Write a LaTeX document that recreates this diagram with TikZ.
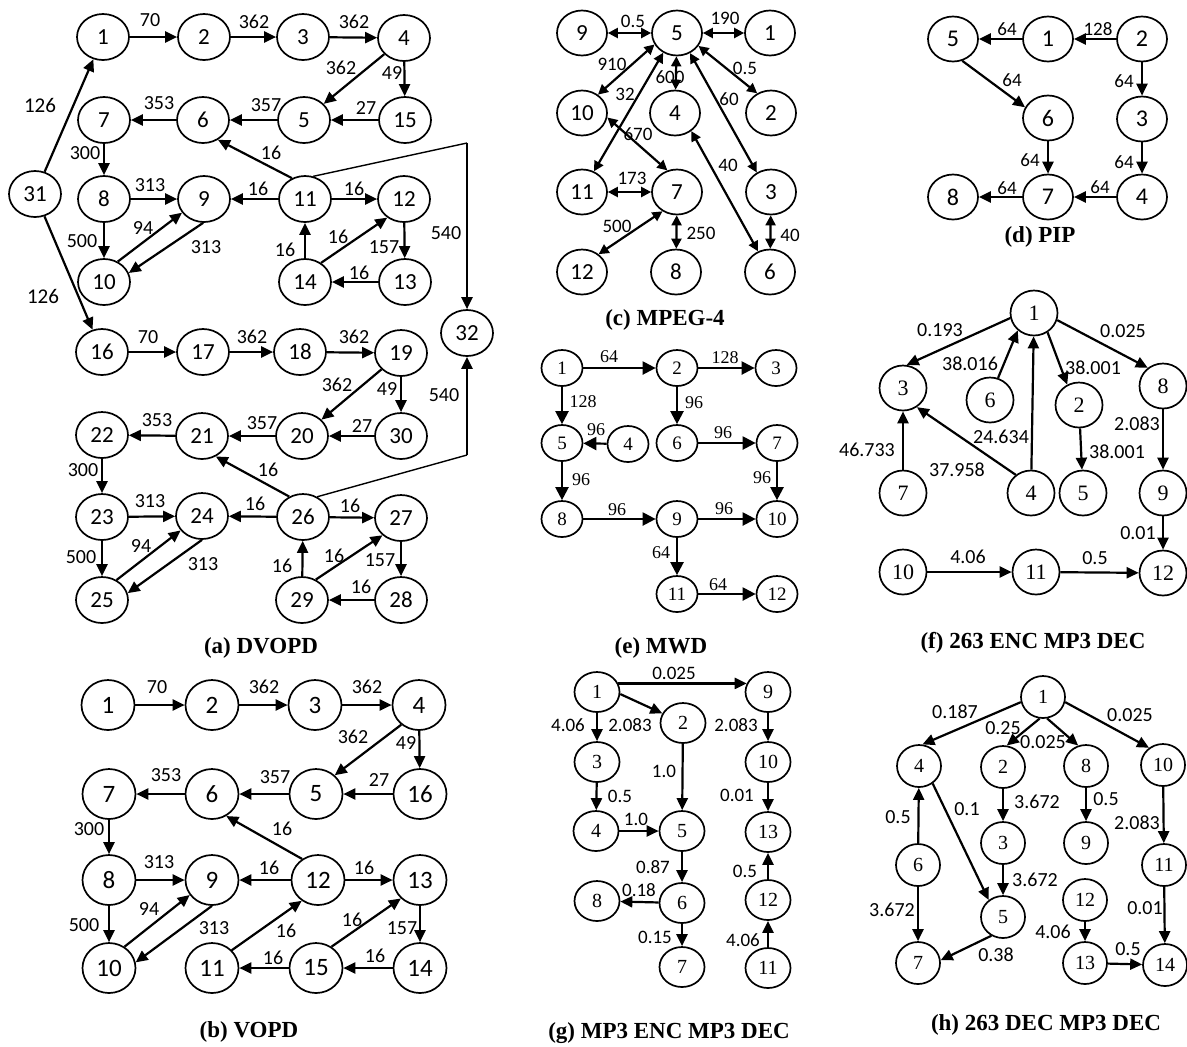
\documentclass[tikz,border=0pt]{standalone}
\usepackage{fontspec}
\setmainfont{Liberation Serif}
\newfontfamily\calib{Carlito}
\newfontfamily\tms{Liberation Serif}
\usetikzlibrary{shapes.geometric,arrows.meta}
\newcommand{\fC}[1]{\calib\fontsize{#1}{#1}\selectfont}
\newcommand{\fT}[1]{\tms\fontsize{#1}{#1}\selectfont}

\begin{document}
\begin{tikzpicture}[x=0.5pt,y=-0.5pt,
  base/.style={draw,ellipse,inner sep=0pt,line width=0.85pt},
  nA/.style={base,minimum width=26pt,minimum height=23pt,font=\fC{11.5}},
  nB/.style={base,minimum width=26.5pt,minimum height=25pt,font=\fC{12.5}},
  nC/.style={base,minimum width=25pt,minimum height=22.5pt,font=\fC{11.5}},
  nD/.style={base,minimum width=25pt,minimum height=22.5pt,font=\fC{12}},
  nE/.style={base,minimum width=20.5pt,minimum height=18pt,font=\fT{9.5}},
  nF/.style={base,minimum width=23.5pt,minimum height=22.5pt,font=\fT{11}},
  nG/.style={base,minimum width=22.5pt,minimum height=20pt,font=\fT{10}},
  nH/.style={base,minimum width=22pt,minimum height=21pt,font=\fT{10}},
  lA/.style={inner sep=0pt,font=\fC{10}},
  lC/.style={inner sep=0pt,font=\fC{9.5}},
  lE/.style={inner sep=0pt,font=\fT{9}},
  captxt/.style={inner sep=0pt,font=\fT{11.5}\bfseries},
  arr/.style={-{Triangle[length=6pt,width=5.5pt]},line width=1.1pt},
  arrE/.style={-{Triangle[length=6.5pt,width=6.5pt]},line width=1.1pt},
  bi/.style={{Triangle[length=5pt,width=5pt]}-{Triangle[length=5pt,width=5pt]},line width=1.1pt},
  thinln/.style={line width=0.7pt},
]
\useasboundingbox (0,0) rectangle (1187,1046);

% ---------------- (a) DVOPD ----------------
\node[nA] (a1) at (103,37) {1};
\node[nA] (a2) at (204,37) {2};
\node[nA] (a3) at (303,37) {3};
\node[nA] (a4) at (404,38) {4};
\node[nA] (a7) at (104,120) {7};
\node[nA] (a6) at (203,120) {6};
\node[nA] (a5) at (304,120) {5};
\node[nA] (a15) at (405,120) {15};
\node[nA] (a31) at (35,194) {31};
\node[nA] (a8) at (104,199) {8};
\node[nA] (a9) at (204,199) {9};
\node[nA] (a11) at (305,199) {11};
\node[nA] (a12) at (404,199) {12};
\node[nA] (a10) at (104,282) {10};
\node[nA] (a14) at (305,282) {14};
\node[nA] (a13) at (405,282) {13};
\node[nA] (a32) at (467,333) {32};
\node[nA] (a16) at (102,352) {16};
\node[nA] (a17) at (203,352) {17};
\node[nA] (a18) at (300,352) {18};
\node[nA] (a19) at (401,353) {19};
\node[nA] (a22) at (102,435) {22};
\node[nA] (a21) at (202,436) {21};
\node[nA] (a20) at (302,436) {20};
\node[nA] (a30) at (401,436) {30};
\node[nA] (a23) at (102,517) {23};
\node[nA] (a24) at (202,516) {24};
\node[nA] (a26) at (303,517) {26};
\node[nA] (a27) at (401,518) {27};
\node[nA] (a25) at (102,600) {25};
\node[nA] (a29) at (302,600) {29};
\node[nA] (a28) at (401,600) {28};
\coordinate (k1) at (467,143);
\coordinate (k2) at (467,455);

\draw[arr] (a31) -- (a1);
\draw[arr] (a31) -- (a16);
\draw[arr] (a1) -- (a2);
\draw[arr] (a2) -- (a3);
\draw[arr] (a3) -- (a4);
\draw[arr] (a4) -- (a5);
\draw[arr] (a4) -- (a15);
\draw[arr] (a15) -- (a5);
\draw[arr] (a5) -- (a6);
\draw[arr] (a6) -- (a7);
\draw[arr] (a7) -- (a8);
\draw[arr] (a11.122) -- (a6.307);
\draw[arr] (a8) -- (a9);
\draw[arr] (a11) -- (a9);
\draw[arr] (a11) -- (a12);
\draw[arr] (a8) -- (a10);
\draw[arr] (a10.56) -- (a9.212);
\draw[arr] (a9.268) -- (a10.20);
\draw[arr] (a14) -- (a11);
\draw[arr] (a14.50) -- (a12.228);
\draw[arr] (a12) -- (a13);
\draw[arr] (a13) -- (a14);
\draw[thinln] (a11.70) -- (k1);
\draw[arr] (k1) -- (a32);

\draw[arr] (a16) -- (a17);
\draw[arr] (a17) -- (a18);
\draw[arr] (a18) -- (a19);
\draw[arr] (a19) -- (a20);
\draw[arr] (a19) -- (a30);
\draw[arr] (a30) -- (a20);
\draw[arr] (a20) -- (a21);
\draw[arr] (a21) -- (a22);
\draw[arr] (a22) -- (a23);
\draw[arr] (a26.124) -- (a21.304);
\draw[arr] (a23) -- (a24);
\draw[arr] (a26) -- (a24);
\draw[arr] (a26) -- (a27);
\draw[arr] (a23) -- (a25);
\draw[arr] (a25.54) -- (a24.214);
\draw[arr] (a24.270) -- (a25.15);
\draw[arr] (a29) -- (a26);
\draw[arr] (a29.56) -- (a27.223);
\draw[arr] (a27) -- (a28);
\draw[arr] (a28) -- (a29);
\draw[thinln] (a26.55) -- (k2);
\draw[arr] (k2) -- (a32);

\node[lA] (aw1) at (150,20) {70};
\node[lA] (aw2) at (254,22) {362};
\node[lA] (aw3) at (354,22) {362};
\node[lA] (aw4) at (341,68) {362};
\node[lA] (aw5) at (392,73) {49};
\node[lA,font=\fC{10.5}] (aw6) at (40,105) {126};
\node[lA] (aw7) at (159,103) {353};
\node[lA] (aw8) at (266,105) {357};
\node[lA] (aw9) at (366,108) {27};
\node[lA] (aw10) at (85,153) {300};
\node[lA] (aw11) at (271,153) {16};
\node[lA] (aw12) at (150,185) {313};
\node[lA] (aw13) at (258,189) {16};
\node[lA] (aw14) at (354,189) {16};
\node[lA] (aw15) at (446,233) {540};
\node[lA] (aw16) at (143,228) {94};
\node[lA] (aw17) at (82,241) {500};
\node[lA] (aw18) at (206,247) {313};
\node[lA] (aw19) at (338,237) {16};
\node[lA] (aw20) at (285,250) {16};
\node[lA] (aw21) at (384,247) {157};
\node[lA] (aw22) at (359,273) {16};
\node[lA,font=\fC{10.5}] (aw23) at (43,296) {126};
\node[lA] (aw24) at (148,337) {70};
\node[lA] (aw25) at (252,337) {362};
\node[lA] (aw26) at (354,337) {362};
\node[lA] (aw27) at (337,385) {362};
\node[lA] (aw28) at (387,389) {49};
\node[lA] (aw29) at (444,395) {540};
\node[lA] (aw30) at (157,420) {353};
\node[lA] (aw31) at (262,423) {357};
\node[lA] (aw32) at (362,426) {27};
\node[lA] (aw33) at (83,470) {300};
\node[lA] (aw34) at (268,470) {16};
\node[lA] (aw35) at (150,501) {313};
\node[lA] (aw36) at (255,504) {16};
\node[lA] (aw37) at (350,506) {16};
\node[lA] (aw38) at (141,546) {94};
\node[lA] (aw39) at (81,557) {500};
\node[lA] (aw40) at (203,564) {313};
\node[lA] (aw41) at (282,566) {16};
\node[lA] (aw42) at (334,556) {16};
\node[lA] (aw43) at (380,560) {157};
\node[lA] (aw44) at (361,587) {16};
\node[captxt] (capa) at (261,648) {(a) DVOPD};

% ---------------- (b) VOPD ----------------
\node[nB] (b1) at (108,705) {1};
\node[nB] (b2) at (212,705) {2};
\node[nB] (b3) at (315,705) {3};
\node[nB] (b4) at (419,705) {4};
\node[nB] (b7) at (109,794) {7};
\node[nB] (b6) at (212,794) {6};
\node[nB] (b5) at (316,794) {5};
\node[nB] (b16) at (420,794) {16};
\node[nB] (b8) at (109,880) {8};
\node[nB] (b9) at (212,880) {9};
\node[nB] (b12) at (318,880) {12};
\node[nB] (b13) at (420,880) {13};
\node[nB] (b10) at (109,968) {10};
\node[nB] (b11) at (212,968) {11};
\node[nB] (b15) at (316,968) {15};
\node[nB] (b14) at (420,968) {14};

\draw[arr] (b1) -- (b2);
\draw[arr] (b2) -- (b3);
\draw[arr] (b3) -- (b4);
\draw[arr] (b4.228) -- (b5.45);
\draw[arr] (b4) -- (b16);
\draw[arr] (b16) -- (b5);
\draw[arr] (b5) -- (b6);
\draw[arr] (b6) -- (b7);
\draw[arr] (b7) -- (b8);
\draw[arr] (b12.127) -- (b6.303);
\draw[arr] (b8) -- (b9);
\draw[arr] (b12) -- (b9);
\draw[arr] (b12) -- (b13);
\draw[arr] (b8) -- (b10);
\draw[arr] (b10.54) -- (b9.214);
\draw[arr] (b9.270) -- (b10.12);
\draw[arr] (b11.42) -- (b12.232);
\draw[arr] (b15.54) -- (b13.224);
\draw[arr] (b13) -- (b14);
\draw[arr] (b14) -- (b15);
\draw[arr] (b15) -- (b11);

\node[lA] (bw1) at (157,687) {70};
\node[lA] (bw2) at (264,687) {362};
\node[lA] (bw3) at (367,687) {362};
\node[lA] (bw4) at (353,737) {362};
\node[lA] (bw5) at (406,743) {49};
\node[lA] (bw6) at (166,775) {353};
\node[lA] (bw7) at (275,777) {357};
\node[lA] (bw8) at (379,780) {27};
\node[lA] (bw9) at (89,829) {300};
\node[lA] (bw10) at (282,829) {16};
\node[lA] (bw11) at (159,862) {313};
\node[lA] (bw12) at (269,868) {16};
\node[lA] (bw13) at (364,868) {16};
\node[lA] (bw14) at (149,909) {94};
\node[lA] (bw15) at (84,925) {500};
\node[lA] (bw16) at (214,928) {313};
\node[lA] (bw17) at (286,931) {16};
\node[lA] (bw18) at (352,920) {16};
\node[lA] (bw19) at (402,928) {157};
\node[lA] (bw20) at (273,958) {16};
\node[lA] (bw21) at (375,956) {16};
\node[captxt] (capb) at (249,1032) {(b) VOPD};

% ---------------- (c) MPEG-4 ----------------
\node[nC] (c9) at (582,33) {9};
\node[nC] (c5) at (677,33) {5};
\node[nC] (c1) at (770,33) {1};
\node[nC] (c10) at (582,113) {10};
\node[nC] (c4) at (675,113) {4};
\node[nC] (c2) at (771,113) {2};
\node[nC] (c11) at (582,192) {11};
\node[nC] (c7) at (677,192) {7};
\node[nC] (c3) at (771,192) {3};
\node[nC] (c12) at (582,272) {12};
\node[nC] (c8) at (676,272) {8};
\node[nC] (c6) at (770,272) {6};

\draw[bi] (c9) -- (c5);
\draw[bi] (c5) -- (c1);
\draw[bi] (c5.207) -- (c10.49);
\draw[bi] (c5) -- (c4);
\draw[bi] (c5.329) -- (c2.125);
\draw[bi] (c5.235) -- (c11.60);
\draw[bi] (c5.303) -- (c3.126);
\draw[bi] (c10.350) -- (c7.114);
\draw[bi] (c4.312) -- (c6.120);
\draw[bi] (c11) -- (c7);
\draw[bi] (c7.233) -- (c12.47);
\draw[bi] (c7) -- (c8);
\draw[bi] (c3) -- (c6);

\node[lC] (cw1) at (633,21) {0.5};
\node[lC] (cw2) at (725,18) {190};
\node[lC] (cw3) at (612,64) {910};
\node[lC] (cw4) at (670,77) {600};
\node[lC] (cw5) at (745,68) {0.5};
\node[lC] (cw6) at (625,94) {32};
\node[lC] (cw7) at (729,99) {60};
\node[lC] (cw8) at (638,134) {670};
\node[lC] (cw9) at (728,165) {40};
\node[lC] (cw10) at (632,178) {173};
\node[lC] (cw11) at (617,226) {500};
\node[lC] (cw12) at (701,233) {250};
\node[lC] (cw13) at (790,235) {40};
\node[captxt] (capc) at (665,320) {(c) MPEG-4};

% ---------------- (d) PIP ----------------
\node[nD] (d5) at (953,39) {5};
\node[nD] (d1) at (1048,39) {1};
\node[nD] (d2) at (1142,39) {2};
\node[nD] (d6) at (1048,118) {6};
\node[nD] (d3) at (1142,119) {3};
\node[nD] (d8) at (953,197) {8};
\node[nD] (d7) at (1048,197) {7};
\node[nD] (d4) at (1142,197) {4};

\draw[arr] (d1) -- (d5);
\draw[arr] (d2) -- (d1);
\draw[arr] (d5.293) -- (d6.155);
\draw[arr] (d2) -- (d3);
\draw[arr] (d6) -- (d7);
\draw[arr] (d3) -- (d4);
\draw[arr] (d7) -- (d8);
\draw[arr] (d4) -- (d7);

\node[lC] (dw1) at (1007,29) {64};
\node[lC] (dw2) at (1098,29) {128};
\node[lC] (dw3) at (1012,80) {64};
\node[lC] (dw4) at (1124,81) {64};
\node[lC] (dw5) at (1030,160) {64};
\node[lC] (dw6) at (1124,162) {64};
\node[lC] (dw7) at (1007,188) {64};
\node[lC] (dw8) at (1100,187) {64};
\node[captxt] (capd) at (1040,237) {(d) PIP};

% ---------------- (e) MWD ----------------
\node[nE] (e1) at (562,368) {1};
\node[nE] (e2) at (677,368) {2};
\node[nE] (e3) at (776,368) {3};
\node[nE] (e5) at (562,443) {5};
\node[nE] (e4) at (628,444) {4};
\node[nE] (e6) at (677,443) {6};
\node[nE] (e7) at (777,443) {7};
\node[nE] (e8) at (562,519) {8};
\node[nE] (e9) at (677,519) {9};
\node[nE] (e10) at (777,519) {10};
\node[nE] (e11) at (677,594) {11};
\node[nE] (e12) at (777,594) {12};

\draw[arrE] (e1) -- (e2);
\draw[arrE] (e2) -- (e3);
\draw[arrE] (e1) -- (e5);
\draw[arrE] (e2) -- (e6);
\draw[arrE] (e4) -- (e5);
\draw[arrE] (e6) -- (e7);
\draw[arrE] (e5) -- (e8);
\draw[arrE] (e7) -- (e10);
\draw[arrE] (e8) -- (e9);
\draw[arrE] (e9) -- (e10);
\draw[arrE] (e9) -- (e11);
\draw[arrE] (e11) -- (e12);

\node[lE] (ew1) at (609,357) {64};
\node[lE] (ew2) at (725,358) {128};
\node[lE] (ew3) at (583,402) {128};
\node[lE] (ew4) at (694,403) {96};
\node[lE] (ew5) at (596,430) {96};
\node[lE] (ew6) at (723,433) {96};
\node[lE] (ew7) at (581,480) {96};
\node[lE] (ew8) at (762,478) {96};
\node[lE] (ew9) at (617,510) {96};
\node[lE] (ew10) at (724,509) {96};
\node[lE] (ew11) at (661,553) {64};
\node[lE] (ew12) at (718,585) {64};
\node[captxt] (cape) at (661,648) {(e) MWD};

% ---------------- (f) 263 ENC MP3 DEC ----------------
\node[nF] (f1) at (1034,313) {1};
\node[nF] (f3) at (903,388) {3};
\node[nF] (f6) at (990,400) {6};
\node[nF] (f2) at (1079,405) {2};
\node[nF] (f8) at (1163,386) {8};
\node[nF] (f7) at (903,493) {7};
\node[nF] (f4) at (1031,493) {4};
\node[nF] (f5) at (1083,493) {5};
\node[nF] (f9) at (1163,493) {9};
\node[nF] (f10) at (903,572) {10};
\node[nF] (f11) at (1036,572) {11};
\node[nF] (f12) at (1163,573) {12};

\draw[arr] (f1.192) -- (f3.81);
\draw[arr] (f6.70) -- (f1.227);
\draw[arr] (f4) -- (f1);
\draw[arr] (f1.305) -- (f2.120);
\draw[arr] (f1.343) -- (f8.130);
\draw[arr] (f4.130) -- (f3.306);
\draw[arr] (f7) -- (f3);
\draw[arr] (f2) -- (f5);
\draw[arr] (f8) -- (f9);
\draw[arr] (f9) -- (f12);
\draw[arr] (f10) -- (f11);
\draw[arr] (f11) -- (f12);

\node[lA] (fw1) at (940,330) {0.193};
\node[lA] (fw2) at (1123,331) {0.025};
\node[lA] (fw3) at (970,364) {38.016};
\node[lA] (fw4) at (1093,368) {38.001};
\node[lA] (fw5) at (1001,437) {24.634};
\node[lA] (fw6) at (1137,424) {2.083};
\node[lA] (fw7) at (867,450) {46.733};
\node[lA] (fw8) at (957,470) {37.958};
\node[lA] (fw9) at (1117,452) {38.001};
\node[lA] (fw10) at (1138,533) {0.01};
\node[lA] (fw11) at (968,557) {4.06};
\node[lA] (fw12) at (1095,558) {0.5};
\node[captxt] (capf) at (1033,643) {(f) 263 ENC MP3 DEC};

% ---------------- (g) MP3 ENC MP3 DEC ----------------
\node[nG] (g1) at (597,692) {1};
\node[nG] (g9) at (768,692) {9};
\node[nG] (g2) at (683,723) {2};
\node[nG] (g3) at (597,762) {3};
\node[nG] (g10) at (768,762) {10};
\node[nG] (g4) at (596,831) {4};
\node[nG] (g5) at (682,831) {5};
\node[nG] (g13) at (768,832) {13};
\node[nG] (g8) at (597,901) {8};
\node[nG] (g6) at (682,903) {6};
\node[nG] (g12) at (768,900) {12};
\node[nG] (g7) at (682,967) {7};
\node[nG] (g11) at (768,968) {11};

\draw[arr] (g1.22) -- (g9.158);
\draw[arr] (g1.-5) -- (g2.155);
\draw[arr] (g1) -- (g3);
\draw[arr] (g9) -- (g10);
\draw[arr] (g2) -- (g5);
\draw[arr] (g3) -- (g4);
\draw[arr] (g10) -- (g13);
\draw[arr] (g4) -- (g5);
\draw[arr] (g5) -- (g6);
\draw[arr] (g12) -- (g13);
\draw[arr] (g6) -- (g8);
\draw[arr] (g6) -- (g7);
\draw[arr] (g11) -- (g12);

\node[lC] (gw1) at (674,673) {0.025};
\node[lC] (gw2) at (568,725) {4.06};
\node[lC] (gw3) at (630,725) {2.083};
\node[lC] (gw4) at (736,725) {2.083};
\node[lC] (gw5) at (664,771) {1.0};
\node[lC] (gw6) at (620,796) {0.5};
\node[lC] (gw7) at (737,795) {0.01};
\node[lC] (gw8) at (636,819) {1.0};
\node[lC] (gw9) at (653,867) {0.87};
\node[lC] (gw10) at (745,871) {0.5};
\node[lC] (gw11) at (639,890) {0.18};
\node[lC] (gw12) at (655,937) {0.15};
\node[lC] (gw13) at (743,940) {4.06};
\node[captxt] (capg) at (669,1033) {(g) MP3 ENC MP3 DEC};

% ---------------- (h) 263 DEC MP3 DEC ----------------
\node[nH] (h1) at (1043,697) {1};
\node[nH] (h4) at (919,766) {4};
\node[nH] (h2) at (1003,767) {2};
\node[nH] (h8) at (1086,766) {8};
\node[nH] (h10) at (1163,765) {10};
\node[nH] (h3) at (1003,843) {3};
\node[nH] (h9) at (1086,843) {9};
\node[nH] (h6) at (918,865) {6};
\node[nH] (h11) at (1164,865) {11};
\node[nH] (h5) at (1003,917) {5};
\node[nH] (h12) at (1085,900) {12};
\node[nH] (h7) at (918,963) {7};
\node[nH] (h13) at (1085,963) {13};
\node[nH] (h14) at (1165,965) {14};

\draw[arr] (h1.193) -- (h4.81);
\draw[arr] (h1.261) -- (h2.80);
\draw[arr] (h1.281) -- (h8.111);
\draw[arr] (h1.347) -- (h10.129);
\draw[arr] (h6) -- (h4);
\draw[arr] (h4.308) -- (h5.130);
\draw[arr] (h2) -- (h3);
\draw[arr] (h8) -- (h9);
\draw[arr] (h10) -- (h11);
\draw[arr] (h3) -- (h5);
\draw[arr] (h6) -- (h7);
\draw[arr] (h5.238) -- (h7.7);
\draw[arr] (h12) -- (h13);
\draw[arr] (h11) -- (h14);
\draw[arr] (h13) -- (h14);

\node[lA] (hw1) at (955,712) {0.187};
\node[lA] (hw2) at (1003,728) {0.25};
\node[lA] (hw3) at (1043,742) {0.025};
\node[lA] (hw4) at (1130,715) {0.025};
\node[lA] (hw5) at (1037,802) {3.672};
\node[lA] (hw6) at (1106,799) {0.5};
\node[lA] (hw7) at (967,809) {0.1};
\node[lA] (hw8) at (898,817) {0.5};
\node[lA] (hw9) at (1137,823) {2.083};
\node[lA] (hw10) at (1035,880) {3.672};
\node[lA] (hw11) at (892,910) {3.672};
\node[lA] (hw12) at (1145,908) {0.01};
\node[lA] (hw13) at (1053,932) {4.06};
\node[lA] (hw14) at (1128,949) {0.5};
\node[lA] (hw15) at (996,955) {0.38};
\node[captxt] (caph) at (1046,1025) {(h) 263 DEC MP3 DEC};
\end{tikzpicture}
\end{document}
